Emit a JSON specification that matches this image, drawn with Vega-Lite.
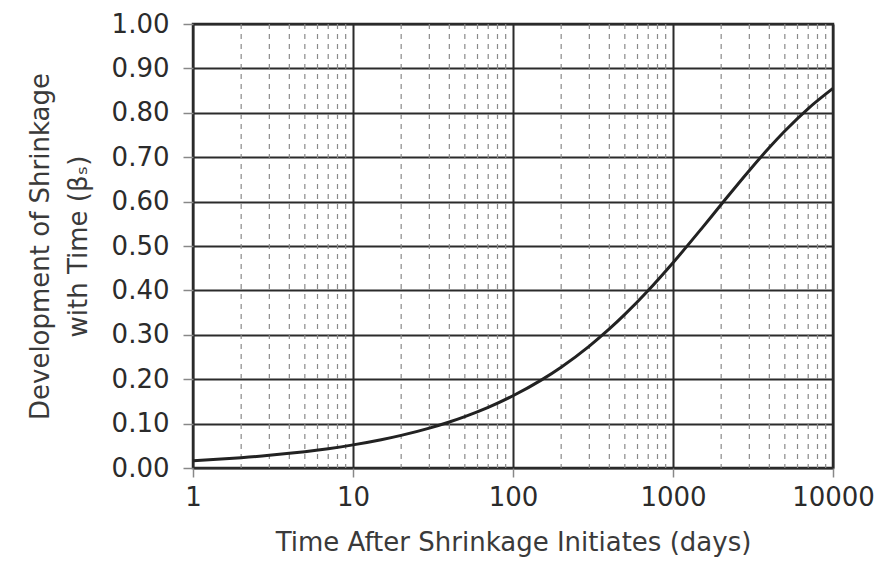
{
  "$schema": "https://vega.github.io/schema/vega-lite/v6.json",
  "autosize": "none",
  "width": 640,
  "height": 444,
  "padding": {"left": 193, "top": 24, "right": 45, "bottom": 95},
  "background": "white",
  "config": {
    "view": {"stroke": "#2b2b2b", "strokeWidth": 2.5},
    "font": "DejaVu Sans"
  },
  "datasets": {
    "curve": [
      {"t": 1, "beta": 0.0165},
      {"t": 1.5, "beta": 0.0202},
      {"t": 2, "beta": 0.0233},
      {"t": 3, "beta": 0.0285},
      {"t": 4, "beta": 0.033},
      {"t": 5, "beta": 0.0368},
      {"t": 7, "beta": 0.0436},
      {"t": 10, "beta": 0.0521},
      {"t": 15, "beta": 0.0637},
      {"t": 20, "beta": 0.0735},
      {"t": 30, "beta": 0.0899},
      {"t": 40, "beta": 0.1037},
      {"t": 50, "beta": 0.1158},
      {"t": 70, "beta": 0.1366},
      {"t": 100, "beta": 0.1627},
      {"t": 150, "beta": 0.1979},
      {"t": 200, "beta": 0.227},
      {"t": 300, "beta": 0.2746},
      {"t": 400, "beta": 0.3131},
      {"t": 500, "beta": 0.3459},
      {"t": 700, "beta": 0.3998},
      {"t": 1000, "beta": 0.4623},
      {"t": 1500, "beta": 0.5381},
      {"t": 2000, "beta": 0.5934},
      {"t": 3000, "beta": 0.6701},
      {"t": 4000, "beta": 0.7217},
      {"t": 5000, "beta": 0.759},
      {"t": 7000, "beta": 0.8096},
      {"t": 10000, "beta": 0.855}
    ],
    "minor": [
      {"t": 2}, {"t": 3}, {"t": 4}, {"t": 5}, {"t": 6}, {"t": 7}, {"t": 8}, {"t": 9},
      {"t": 20}, {"t": 30}, {"t": 40}, {"t": 50}, {"t": 60}, {"t": 70}, {"t": 80}, {"t": 90},
      {"t": 200}, {"t": 300}, {"t": 400}, {"t": 500}, {"t": 600}, {"t": 700}, {"t": 800}, {"t": 900},
      {"t": 2000}, {"t": 3000}, {"t": 4000}, {"t": 5000}, {"t": 6000}, {"t": 7000}, {"t": 8000}, {"t": 9000}
    ]
  },
  "layer": [
    {
      "data": {"name": "minor"},
      "mark": {"type": "rule", "color": "#8a8a8a", "strokeWidth": 1.2, "strokeDash": [5, 5]},
      "encoding": {
        "x": {"field": "t", "type": "quantitative", "scale": {"type": "log", "domain": [1, 10000]}}
      }
    },
    {
      "data": {"name": "curve"},
      "mark": {"type": "line", "color": "#222222", "strokeWidth": 3, "interpolate": "monotone"},
      "encoding": {
        "x": {
          "field": "t",
          "type": "quantitative",
          "scale": {"type": "log", "domain": [1, 10000]},
          "axis": {
            "values": [1, 10, 100, 1000, 10000],
            "format": "d",
            "title": "Time After Shrinkage Initiates (days)",
            "grid": true,
            "gridColor": "#2b2b2b",
            "gridWidth": 2,
            "gridOpacity": 1,
            "domain": false,
            "tickColor": "#888888",
            "tickSize": 9,
            "tickWidth": 1.5,
            "labelFlush": false,
            "labelOverlap": false,
            "labelFontSize": 26,
            "labelColor": "#2b2b2b",
            "labelPadding": 7,
            "titleFontSize": 26,
            "titleFontWeight": "normal",
            "titleColor": "#3a3a3a",
            "titlePadding": 19
          }
        },
        "y": {
          "field": "beta",
          "type": "quantitative",
          "scale": {"domain": [0, 1]},
          "axis": {
            "values": [0, 0.1, 0.2, 0.3, 0.4, 0.5, 0.6, 0.7, 0.8, 0.9, 1.0],
            "format": ".2f",
            "title": ["Development of Shrinkage", "with Time (βₛ)"],
            "grid": true,
            "gridColor": "#2b2b2b",
            "gridWidth": 2,
            "gridOpacity": 1,
            "domain": false,
            "tickColor": "#888888",
            "tickSize": 10,
            "tickWidth": 1.5,
            "labelFlush": false,
            "labelFontSize": 26,
            "labelColor": "#2b2b2b",
            "labelPadding": 14,
            "titleFontSize": 26,
            "titleFontWeight": "normal",
            "titleColor": "#3a3a3a",
            "titleLineHeight": 38,
            "titlePadding": 20
          }
        }
      }
    }
  ]
}
